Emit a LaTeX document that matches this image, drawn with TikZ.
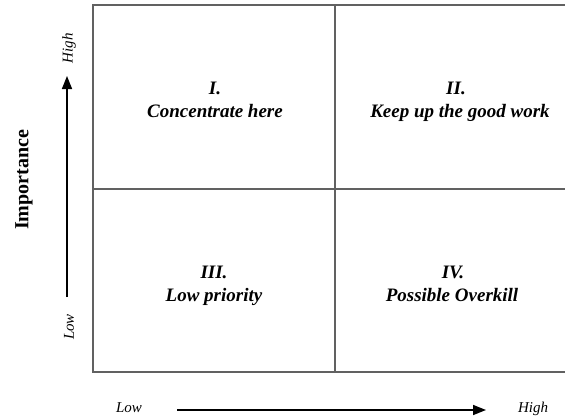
\documentclass[tikz,border=0pt]{standalone}
\usepackage{fontspec}
\setmainfont{Liberation Serif}
\usetikzlibrary{arrows.meta}
\begin{document}
\begin{tikzpicture}[x=1pt,y=-1pt,
  gridline/.style={draw=black!62,line width=1.6pt},
  axisarrow/.style={draw=black,line width=1.5pt,-{Triangle[length=13pt,width=10pt]}},
  quad/.style={font=\fontsize{19}{23}\selectfont\bfseries\itshape,anchor=base,inner sep=0pt},
  axislabel/.style={font=\fontsize{15}{18}\selectfont\itshape,inner sep=0pt},
  title/.style={font=\fontsize{20}{24}\selectfont\bfseries,inner sep=0pt}]
\useasboundingbox (0,0) rectangle (565,418);
% grid
\coordinate (tr) at (566,5);
\coordinate (tl) at (93,5);
\coordinate (bl) at (93,372);
\coordinate (br) at (566,372);
\coordinate (vt) at (335,5);
\coordinate (vb) at (335,372);
\coordinate (hl) at (93,189);
\coordinate (hr) at (566,189);
\draw[gridline] (tr) -- (tl) -- (bl) -- (br);
\draw[gridline] (vt) -- (vb);
\draw[gridline] (hl) -- (hr);
% quadrant texts
\node[quad] (q1a) at (215,94) {I.};
\node[quad] (q1b) at (215,117) {Concentrate here};
\node[quad] (q2a) at (456,94) {II.};
\node[quad] (q2b) at (460,117) {Keep up the good work};
\node[quad] (q3a) at (214,278) {III.};
\node[quad] (q3b) at (214,301) {Low priority};
\node[quad] (q4a) at (453,278) {IV.};
\node[quad] (q4b) at (452,301) {Possible Overkill};
% vertical axis
\coordinate (va) at (67,297);
\coordinate (vz) at (67,76);
\draw[axisarrow] (va) -- (vz);
\node[axislabel,rotate=90] (vhigh) at (69,48) {High};
\node[axislabel,rotate=90] (vlow) at (69,327) {Low};
\node[title,rotate=90] (imp) at (24,180) {Importance};
% horizontal axis
\coordinate (ha) at (177,410);
\coordinate (hz) at (486,410);
\draw[axisarrow] (ha) -- (hz);
\node[axislabel,anchor=base] (hlow) at (129,412) {Low};
\node[axislabel,anchor=base] (hhigh) at (533,412) {High};
\end{tikzpicture}
\end{document}
